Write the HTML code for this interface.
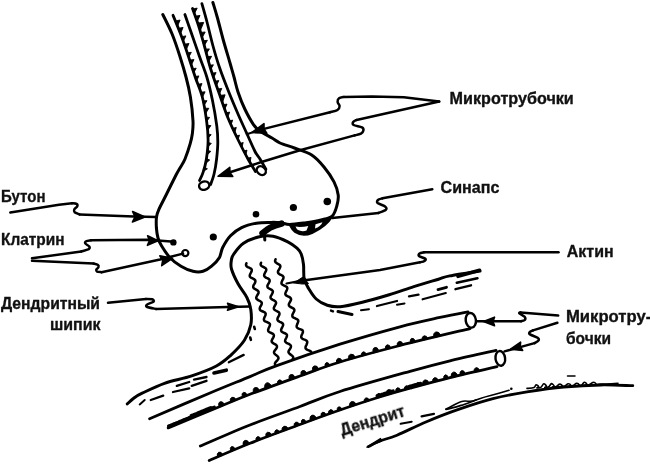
<!DOCTYPE html>
<html lang="ru">
<head>
<meta charset="utf-8">
<title>Синапс</title>
<style>html,body{margin:0;padding:0;background:#fff;}body{width:650px;height:465px;overflow:hidden;}svg{display:block;}</style>
</head>
<body>
<svg width="650" height="465" viewBox="0 0 650 465" fill="none" stroke="#000" stroke-linecap="round" stroke-linejoin="round">
<g>
<path d="M162.8 14.5C164.4 17.8 169.3 27.1 172.1 34C174.9 40.9 177.5 48.8 179.8 56C182.1 63.2 184.2 70.2 186 77C187.8 83.8 189.2 89.7 190.4 97C191.6 104.3 192.7 114.8 193 121C193.3 127.2 192.8 130.2 192.3 134C191.8 137.8 191.4 139.5 190.2 143.7C189 147.9 186.7 154.9 185 159C183.3 163.1 181.5 165.3 180 168C178.5 170.7 178.1 171 175.9 175.3C173.7 179.6 169.4 188.3 166.6 194C163.8 199.7 160.6 205.5 158.9 209.3C157.2 213.1 156.9 213.9 156.5 217C156.1 220.1 156.2 224.5 156.4 228C156.7 231.5 157.2 235 158 238C158.8 241 159.5 242.5 161.5 245.8C163.5 249.1 166.8 254.3 170 257.7C173.2 261.1 177.2 263.9 181 266.2C184.8 268.5 189.3 270.4 193 271.3C196.7 272.2 199.9 272.2 203 271.3C206.1 270.4 208.9 268.5 211.6 266.2C214.3 263.9 217.5 260.8 219.3 257.7C221.2 254.6 220.8 251.2 222.7 247.5C224.6 243.8 227.3 239 230.5 235.7C233.7 232.4 237.3 229.7 241.6 227.6C245.9 225.5 251.5 224.1 256.4 223.2C261.3 222.3 267.2 222.5 271.2 222.4C275.2 222.3 277.4 222.4 280.5 222.7C283.6 223 285.7 224.4 289.7 224.4C293.7 224.4 299.3 223.6 304.5 222.9C309.7 222.2 316.4 221.2 321 220C325.6 218.8 329.6 218.3 332.2 216C334.8 213.7 335.8 209.5 336.8 206C337.8 202.5 338.7 199 338.2 195C337.7 191 336.4 186.6 334 181.9C331.6 177.2 327.7 171.5 324 167C320.3 162.5 316.6 158.2 311.7 155C306.8 151.8 299.7 150 294.4 148C289.1 146 283.7 144.7 280 143C276.3 141.3 275.3 140 272 138C268.7 136 263.1 133.3 260 131C256.9 128.7 255.8 128 253.3 124.3C250.8 120.6 247.4 114.4 244.8 109C242.2 103.6 239.8 97.3 238 92C236.2 86.7 235.3 81.8 234 77C232.7 72.2 231.8 69.3 230 63C228.2 56.7 225.1 46.7 223 39C220.9 31.3 218.9 23.1 217.2 17C215.5 10.9 213.6 4.9 212.9 2.5" stroke-width="3" />
<path d="M173 15.3C174.3 18.4 178 27.2 180.6 34C183.2 40.8 185.9 48.8 188.3 56C190.7 63.2 192.9 70.2 195.2 77C197.5 83.8 200.4 89.7 202.3 97C204.2 104.3 205.6 113.8 206.6 121C207.6 128.2 208.1 133.7 208.1 140C208.1 146.3 207.2 153.6 206.4 159C205.6 164.4 204.2 169 203 172.6C201.8 176.2 200.1 179.2 199.5 180.5" stroke-width="2.8" />
<path d="M184.9 14.5C186 17.8 189.3 27.1 191.7 34C194.1 40.9 196.8 48.8 199.3 56C201.8 63.2 204.6 69.6 206.8 77C209 84.4 210.8 92.3 212.5 100.5C214.2 108.7 215.9 119.1 216.8 126C217.7 132.9 217.8 136.5 217.8 142C217.8 147.5 217.2 153.6 216.6 159C216 164.4 215 170.1 214 174.3C213 178.6 211.2 182.8 210.6 184.5" stroke-width="2.8" />
<path d="M192.5 8.5C193.5 11.3 196.5 19.2 198.5 25.5C200.5 31.8 202.4 38.9 204.4 46C206.4 53.1 207.9 60 210.4 68C212.9 76 216.4 85.5 219.3 93.7C222.2 102 224.7 109.8 227.8 117.5C231 125.2 234.8 133.1 238.2 140C241.6 146.9 245.1 153.8 248 159C250.9 164.2 254.2 169.4 255.4 171.5" stroke-width="2.8" />
<path d="M201.9 3.7C202.8 6.8 205.2 15 207 22C208.8 29 210.9 38.3 213 46C215.1 53.7 216.9 60 219.7 68C222.4 76 226.4 86 229.5 93.7C232.6 101.4 235.2 107.5 238 114C240.8 120.5 243.7 126.6 246.5 132.8C249.3 139.1 252.8 147.1 255 151.5C257.2 155.9 258.2 156.1 260 159C261.8 161.9 264.9 167.5 265.9 169.2" stroke-width="2.8" />
<path d="M175.4 21L180.1 20L177.5 26.2ZM178.4 28.3L183.1 27.4L180.5 33.7ZM181.6 36.7L185.9 35.9L183.3 41.3ZM184.3 44.2L189 43.5L186.2 49.8ZM187.2 52.9L191.3 52.3L188.7 57.2ZM189.7 60.1L194 59.6L191.3 65.2ZM192.5 68.7L196.2 68.2L193.8 72.7ZM195 76.6L198.9 75.9L196.6 81ZM197.9 84.3L202 83.6L199.8 89.1ZM200.9 92.2L205.1 91.8L202.4 97.3ZM203.2 100.8L207 100.7L204.1 105.2ZM204.7 108.2L208.8 108.3L205.6 113.6ZM206.1 117.2L209.6 117.4L206.7 121.4ZM207.2 125.3L210.9 125.6L207.7 130.2ZM208 134.2L211.2 134.7L208.1 138.1ZM208.1 142.5L211.3 143.4L207.8 146.9ZM207.5 150.3L210.8 151.4L207 155ZM206.5 158.6L209.7 160L205.6 163.5ZM204.6 167.3L207.4 168.8L203.4 171.3Z" fill="#000" stroke="#000" stroke-width="0.9"/>
<path d="M192.7 9L197.2 8.1L194.4 13.7ZM195.3 16.2L200 15.4L197.2 21.5ZM197.7 23L203.7 22.4L200.2 30.8ZM200.6 32.4L205.2 32L202.1 37.7ZM202.9 40.8L207.4 40.3L204.3 45.7ZM205.3 49.2L209.4 48.9L206.4 53.7ZM207.2 56.6L211.6 56.3L208.6 61.8ZM209.6 65.3L213.4 64.8L210.8 69.4ZM212.1 73.2L216.1 72.6L213.6 77.7ZM214.9 81.2L218.8 80.6L216.4 85.7ZM217.6 89L221.8 88.4L219.4 93.9ZM219.9 95.4L225.1 94.8L222.4 102.7ZM223.1 104.7L227 104.1L224.7 109.5ZM225.9 112.8L229.7 112.1L227.7 117.3ZM229.2 120.9L232.7 120.1L231 124.8ZM232.6 128.4L236.3 127.4L234.7 132.9ZM236.3 136L239.5 135.1L238 139.6ZM239.9 143.5L243.2 142.5L241.9 147.4ZM243.8 151.1L247 150.1L245.8 154.9ZM247.6 158.4L251 157.3L250 162.6Z" fill="#000" stroke="#000" stroke-width="0.9"/>
<ellipse cx="204.2" cy="185.6" rx="5.2" ry="4.1" transform="rotate(-15 204.2 185.6)" fill="#fff" stroke-width="2.4"/>
<ellipse cx="261.3" cy="170.6" rx="4.9" ry="3.9" transform="rotate(40 261.3 170.6)" fill="#fff" stroke-width="2.4"/>
<circle cx="256" cy="214.2" r="3.3" fill="#000" stroke="none"/>
<circle cx="293.4" cy="207.5" r="3.6" fill="#000" stroke="none"/>
<circle cx="327.3" cy="201.5" r="3.8" fill="#000" stroke="none"/>
<circle cx="213.3" cy="237" r="3.6" fill="#000" stroke="none"/>
<circle cx="173.4" cy="242.4" r="3.2" fill="#000" stroke="none"/>
<ellipse cx="185.3" cy="253.1" rx="3.1" ry="3.1" transform="rotate(0 185.3 253.1)" fill="#fff" stroke-width="2.2"/>
<path d="M289.5 224.6C296 226 306 224.5 321 220.5C325 219.5 329 218 332.5 216C329 222 322 228.5 312 233C306 235.5 299.5 235 295 232C292.5 230 291 227.5 289.5 224.6Z" fill="#000" stroke-width="2"/>
<path d="M295.5 226.5C299 227.3 304 226.8 308.3 226L306.5 230.5C303 231.8 299 231 296.8 229Z M315.5 224.2L322.5 222.2C321.5 225 318.5 227.5 315 228.5Z" fill="#fff" stroke="none"/>
<path d="M262.5 233.2C267 229.5 271 226 281.5 223.6" stroke-width="6.4"/>
<path d="M264.3 233L264.8 240" stroke-width="3"/>
<path d="M127.3 403.9C128.4 402.9 131.5 399.8 134 398C136.5 396.2 137.1 395.6 142.2 393.2C147.3 390.8 156.2 386.2 164.5 383.3C172.8 380.4 183 378.8 191.7 375.9C200.3 373 210 369.4 216.4 366C222.8 362.6 225.5 360.1 230.2 355.8C234.9 351.5 241 345.5 244.4 340.3C247.8 335.1 249.7 330 250.8 324.8C251.9 319.6 251.4 313.9 250.8 309.4C250.2 304.9 249.2 302 247 297.7C244.8 293.4 240.5 288.3 237.9 283.5C235.3 278.7 232.6 272.9 231.5 269C230.4 265.1 231 262.5 231.4 260C231.8 257.5 231.8 256.8 233.8 254C235.8 251.2 239.4 246.1 243.5 243.3C247.6 240.5 253.4 238.2 258.3 237C263.2 235.8 268.1 235.4 273 236.2C277.9 237 283.8 239.8 287.8 241.8C291.8 243.8 294.8 246.2 297 248.2C299.2 250.2 300.1 251.3 301.2 254C302.3 256.7 303 260.3 303.5 264.5C304 268.7 303.3 274.9 304.2 279C305.1 283.1 306.8 285.5 308.8 288.8C310.8 292.1 313.1 296.2 316.2 299C319.3 301.8 323.3 304 327.3 305.3C331.3 306.6 334.4 307.2 340.2 306.7C346 306.2 354.2 304.2 362.4 302.2C370.6 300.2 380.6 297.3 389.2 294.7C397.8 292.1 405.6 289.2 413.8 286.6C422 284 432.5 281 438.5 279.2C444.5 277.4 442.8 277.3 449.7 275.9C456.6 274.5 474.9 271.8 480 271" stroke-width="3" />
<path d="M458 276.3L479.5 270.3" stroke-width="3.6"/>
<path d="M246.4 263.3L246 264.5L246.1 265.5L246.7 266.4L247.8 267.1L249.1 267.7L250.4 268.3L251.4 269L251.8 269.9L251.7 271L251.2 272.2L250.5 273.5L249.9 274.8L249.7 275.9L250 276.8L250.9 277.6L252.1 278.2L253.5 278.9L254.6 279.6L255.3 280.4L255.4 281.4L255.1 282.6L254.4 283.8L253.6 285.1L253.2 286.3L253.2 287.3L253.8 288.2L254.8 288.9L256.1 289.6L257.3 290.3L258.2 291.1L258.6 292L258.5 293.1L257.9 294.3L257.1 295.5L256.5 296.8L256.2 297.9L256.5 298.8L257.4 299.6L258.6 300.3L259.9 301L261 301.7L261.7 302.5L261.8 303.5L261.5 304.6L260.8 305.9L260.1 307.2L259.7 308.4L259.8 309.5L260.4 310.3L261.6 311L262.9 311.5L264.2 312.1L265.2 312.8L265.7 313.7L265.6 314.7L265.1 316L264.5 317.3L264 318.6L263.9 319.8L264.3 320.7L265.2 321.4L266.5 321.9L267.9 322.5L269.1 323.1L269.8 323.8L270 324.8L269.7 326L269.1 327.3L268.5 328.6L268.1 329.8L268.2 330.9L268.8 331.7L269.9 332.4L271.2 333L272.5 333.6L273.4 334.3L273.9 335.3L273.8 336.4L273.2 337.6L272.5 338.9L271.9 340.1L271.6 341.2L271.9 342.1L272.7 342.9L273.9 343.6L275.2 344.3L276.3 345.1L276.9 346L277 347.1L276.5 348.2L275.6 349.4L274.8 350.5L274.1 351.6L274 352.6L274.4 353.6L275.3 354.4L276.5 355.3L277.6 356.3L278.3 357.2L278.5 358.2L278.1 359.2L277.3 360.3L276.3 361.4L275.4 362.4L274.9 363.5L275 364.5" stroke-width="2.5"/>
<path d="M261.1 262.7L260.6 263.9L260.7 264.9L261.3 265.8L262.4 266.5L263.7 267.1L264.9 267.8L265.9 268.5L266.3 269.4L266.2 270.5L265.6 271.7L264.9 273L264.3 274.3L264.1 275.4L264.4 276.3L265.2 277.1L266.4 277.8L267.8 278.4L268.9 279.1L269.6 280L269.7 281L269.3 282.1L268.6 283.4L267.9 284.6L267.4 285.8L267.4 286.8L268 287.7L269.1 288.5L270.3 289.1L271.6 289.8L272.5 290.6L272.9 291.5L272.7 292.6L272.1 293.8L271.4 295.1L270.7 296.3L270.5 297.4L270.8 298.4L271.6 299.2L272.8 299.9L274.2 300.5L275.3 301.2L275.9 302.1L276.1 303.1L275.7 304.2L275 305.5L274.3 306.7L273.8 307.9L273.9 309L274.5 309.8L275.6 310.5L276.9 311.2L278.1 311.8L279.1 312.6L279.5 313.5L279.4 314.6L278.8 315.8L278.1 317.1L277.6 318.3L277.4 319.4L277.7 320.4L278.6 321.2L279.8 321.8L281.1 322.4L282.3 323.1L283 323.9L283.2 324.9L282.8 326L282.2 327.3L281.5 328.6L281.1 329.8L281.2 330.8L281.8 331.7L282.9 332.4L284.2 333L285.5 333.5L286.5 334.2L287 335.1L286.9 336.2L286.4 337.5L285.8 338.8L285.2 340.1L285.1 341.2L285.5 342.1L286.4 342.8L287.6 343.4L289 344L290.1 344.7L290.8 345.5L291 346.6L290.6 347.8L289.9 349L289.1 350.2L288.5 351.3L288.5 352.3L289 353.2L289.9 354.1L291.1 354.9L292.2 355.7L293 356.7L293.3 357.6L292.9 358.7L292.2 359.8" stroke-width="2.5"/>
<path d="M275.6 259.2L275.1 260.4L275.1 261.4L275.6 262.3L276.6 263.1L277.9 263.8L279.1 264.5L280 265.3L280.4 266.3L280.2 267.3L279.6 268.5L278.8 269.8L278.1 271L277.9 272.1L278.2 273.1L279 273.9L280.2 274.6L281.6 275.2L282.7 275.9L283.4 276.7L283.5 277.7L283.2 278.9L282.5 280.1L281.9 281.4L281.5 282.6L281.5 283.7L282.2 284.5L283.3 285.2L284.6 285.8L285.9 286.4L286.9 287.1L287.3 288L287.2 289.1L286.7 290.3L286 291.6L285.5 292.9L285.3 294L285.6 294.9L286.5 295.7L287.8 296.3L289.1 296.9L290.2 297.6L290.9 298.5L291.1 299.5L290.7 300.6L290 301.9L289.3 303.2L288.8 304.3L288.9 305.4L289.5 306.2L290.5 307L291.8 307.6L293.1 308.3L294 309L294.4 309.9L294.3 311L293.7 312.2L293 313.5L292.4 314.8L292.3 315.9L292.6 316.9L293.5 317.6L294.8 318.2L296.1 318.8L297.3 319.4L298.1 320.1L298.3 321.1L298 322.3L297.5 323.6L296.9 325L296.6 326.2L296.8 327.2L297.5 328L298.6 328.6L300 329.1L301.3 329.6L302.4 330.2L302.9 331.1L302.9 332.2L302.4 333.5L301.8 334.8L301.3 336.1L301.2 337.2L301.6 338.1L302.5 338.8L303.8 339.4L305.2 339.9L306.3 340.5L307.1 341.3L307.3 342.3L307 343.5L306.5 344.8L305.8 346.1L305.5 347.3L305.6 348.4L306.3 349.2L307.4 349.8L308.7 350.3L310 350.9L311 351.6L311.5 352.5" stroke-width="2.5"/>
<path d="M286.5 283.5L303 280.4" stroke-width="2.2"/>
<circle cx="303.4" cy="280.6" r="3.2" fill="#000" stroke="none"/>
<path d="M294 282.8L303 277L308.5 283.5L303 284Z" fill="#000" stroke-width="1"/>
<path d="M149.6 418.7C159.7 414.4 193.3 400 210 393C226.7 386 238.9 381.2 250 376.6C261.1 372 261.8 371 276.8 365.6C291.8 360.2 319.5 350.7 340 344.2C360.5 337.7 383.3 331.3 400 326.8C416.7 322.3 428.7 319.9 440 317.4C451.3 314.9 463.3 312.7 468 311.8" stroke-width="2.8" />
<path d="M168.2 427.9C176.8 424.3 206.4 412.1 220 406.5C233.6 400.9 236.7 399.4 250 394.3C263.3 389.2 285 381.4 300 376C315 370.6 323.3 367.1 340 362C356.7 356.9 378.3 351.1 400 345.5C421.7 339.9 458.3 331.4 470 328.6" stroke-width="2.8" />
<path d="M200.3 446C208.6 442.5 233.4 431.6 250 425C266.6 418.4 285 412.1 300 406.5C315 400.9 321.7 397.4 340 391.5C358.3 385.6 391.7 376.4 410 371.3C428.3 366.2 435.7 364.3 450 360.8C464.3 357.3 488.3 352.1 496 350.3" stroke-width="2.8" />
<path d="M209.2 460.5C216 457.6 234.9 449.3 250 443.3C265.1 437.3 285 430.1 300 424.5C315 418.9 326.7 414.6 340 410C353.3 405.4 367.9 400.6 379.6 397C391.3 393.4 398.3 391.4 410 388.2C421.7 385 435.5 381.2 450 377.6C464.5 374 489.2 368.4 497 366.6" stroke-width="2.8" />
<path d="M219.2 406.8A2.8 4.3 -22.4 0 1 224.4 404.7ZM230.5 402.1A3.1 4.5 -22.7 0 1 236.2 399.8ZM242.6 397.2A2.5 4.1 -21.3 0 1 247.3 395.3ZM253.7 392.9A3.1 4.5 -20.5 0 1 259.5 390.7ZM265 388.7A3.5 4.9 -20.1 0 1 271.6 386.3ZM277.6 384.1A2.7 4.2 -20 0 1 282.6 382.3ZM289.5 379.8A2.9 4.4 -19.8 0 1 295.1 377.8ZM301.4 375.5A2.8 4.3 -20.1 0 1 306.7 373.6ZM312.9 371.3A3.1 4.5 -20.2 0 1 318.7 369.1ZM325.2 366.8A2.5 4.1 -18.8 0 1 329.9 365.2ZM336.5 363.1A3.1 4.5 -17 0 1 342.4 361.3ZM348.6 359.4A3.5 4.9 -16.1 0 1 355.3 357.5ZM361.4 355.8A2.7 4.2 -15.5 0 1 366.5 354.4ZM373.2 352.6A2.9 4.4 -15 0 1 378.9 351ZM385.4 349.3A2.8 4.3 -14.7 0 1 390.8 347.9ZM397.2 346.2A3.1 4.5 -14.4 0 1 403.2 344.7ZM410.4 342.9A2.5 4.1 -13.8 0 1 415.3 341.7ZM422 340.1A3.1 4.5 -13.6 0 1 427.9 338.6ZM433.7 337.2A3.5 4.9 -13.4 0 1 440.5 335.6Z" fill="#000" stroke="#000" stroke-width="0.9"/>
<path d="M168.6 426.1L169.9 425.6L171.3 425L172.7 424.4L174.1 423.8L175.5 423.3L176.9 422.7L178.3 422.1L179.6 421.5L181 421L182.4 420.4L183.8 419.8L185.2 419.3L186.6 418.7L188 418.1L189.3 417.5L190.7 417L192.1 416.4L193.5 415.8L194.9 415.2L196.3 414.7L197.7 414.1L199 413.5L200.4 412.9L201.8 412.4L203.2 411.8L204.6 411.2L206 410.7L207.4 410.1L208.8 409.5L210.1 408.9L211.5 408.4L212.9 407.8L214.3 407.2" stroke-width="3.2"/>
<path d="M191.3 415.7L192.7 415.2L194.1 414.6L195.5 414L196.9 413.5L198.2 412.9L199.6 412.3L201 411.7L202.4 411.2L203.8 410.6L205.2 410L206.6 409.4L207.9 408.9L209.3 408.3L210.7 407.7" stroke-width="3.4"/>
<path d="M217.6 456.9A2.9 4.2 -23.3 0 1 222.9 454.6ZM230.9 451.2A2.3 3.8 -22.9 0 1 235.3 449.3ZM243.5 445.9A3.2 4.5 -22 0 1 249.5 443.5ZM256.2 440.9A2.6 4 -21 0 1 261 439ZM266.2 437.1A2.9 4.2 -20.6 0 1 271.6 435ZM275 433.8A2.5 3.9 -20.4 0 1 279.6 432ZM282.1 431.1A3.4 4.7 -20.3 0 1 288.4 428.8ZM294.3 426.6A2.9 4.2 -20.3 0 1 299.7 424.6ZM301.8 423.8A2.3 3.8 -20.3 0 1 306.2 422.2ZM310.4 420.7A3.2 4.5 -20.2 0 1 316.5 418.4ZM321.3 416.6A2.6 4 -19.9 0 1 326.2 414.9ZM328.6 414A2.9 4.2 -19.6 0 1 334 412.1ZM337.4 410.9A2.5 3.9 -19.1 0 1 342.1 409.3ZM349.8 406.7A3.4 4.7 -18.4 0 1 356.2 404.5ZM364.1 401.9A2.9 4.2 -17.9 0 1 369.5 400.2ZM377 397.8A2.3 3.8 -17.3 0 1 381.4 396.4ZM386.6 394.8A3.2 4.5 -16.5 0 1 392.8 393ZM395.9 392.1A2.6 4 -15.7 0 1 400.9 390.7ZM404.3 389.8A2.9 4.2 -15.4 0 1 409.8 388.3ZM416.2 386.5A2.5 3.9 -15.3 0 1 421 385.2ZM422.6 384.8A3.4 4.7 -15.1 0 1 429.1 383ZM432.7 382A2.9 4.2 -14.7 0 1 438.3 380.6ZM443.9 379.1A2.3 3.8 -14.2 0 1 448.4 378ZM451.3 377.3A3.2 4.5 -13.6 0 1 457.6 375.8ZM460.1 375.1A2.6 4 -13.3 0 1 465.2 373.9ZM474 371.9A2.9 4.2 -13 0 1 479.6 370.6Z" fill="#000" stroke="#000" stroke-width="0.9"/>
<path d="M377.2 395.9L378.7 395.4L380.1 395L381.5 394.5L383 394.1L384.4 393.6L385.8 393.2L387.3 392.8L388.7 392.3L390.2 391.9L391.6 391.5L393.1 391.1" stroke-width="3.4"/>
<path d="M409 386.6L410.4 386.2L411.9 385.8L413.3 385.4L414.8 385L416.2 384.6L417.6 384.2L419.1 383.8L420.5 383.4" stroke-width="3.4"/>
<ellipse cx="470.8" cy="320.3" rx="5.1" ry="7.4" transform="rotate(-8 470.8 320.3)" fill="#fff" stroke-width="2.4"/>
<ellipse cx="500.3" cy="358.4" rx="4.8" ry="7.4" transform="rotate(-8 500.3 358.4)" fill="#fff" stroke-width="2.4"/>
<path d="M254.2 326.8L254.8 329" stroke-width="2.6"/>
<path d="M250.2 337.5L250.9 339.8" stroke-width="2.6"/>
<path d="M228.8 362.3L243.7 354.9" stroke-width="2.3"/>
<path d="M214 373L226.3 370.2" stroke-width="3.6"/>
<path d="M194 379.6L206.5 377" stroke-width="2.3"/>
<path d="M176.8 385.8L189.2 382" stroke-width="2.3"/>
<path d="M191.7 385.8L206.5 380.8" stroke-width="2.3"/>
<path d="M173 392L189.2 388.3" stroke-width="2.3"/>
<path d="M150.8 400L163.2 395.7" stroke-width="2.3"/>
<path d="M139.7 404.4L144.7 400" stroke-width="2"/>
<path d="M331 310.6L333 311.4" stroke-width="2.4"/>
<path d="M338 311.5L352 314.5" stroke-width="3"/>
<path d="M361 310.2L369 309.2" stroke-width="2"/>
<path d="M377 306L397 301" stroke-width="2.3"/>
<path d="M397 304.7L404.5 303.5" stroke-width="2"/>
<path d="M409 296.3L418.5 294.6" stroke-width="2.3"/>
<path d="M422.6 299.3L445.8 293" stroke-width="2.2"/>
<path d="M438 289.6L446.5 287.3" stroke-width="2.8"/>
<path d="M455.5 289.2L471 285.3" stroke-width="2.4"/>
<path d="M456.8 282.7L477.4 278.2" stroke-width="2.6"/>
<path d="M368.5 446.6C370.2 445.8 373.8 443.4 378.5 441.5C383.2 439.6 389 438.5 397 435.2C405 431.9 416.2 426 426.5 421.7C436.8 417.4 447.4 413.2 458.5 409.4C469.6 405.5 481.6 401.5 493 398.6C504.4 395.7 515.2 393.8 527 391.9C538.8 390 551.6 388.1 563.9 387C576.2 385.9 589.3 385.2 600.8 385C612.3 384.8 627.5 385.6 632.8 385.7" stroke-width="2.8" />
<path d="M367 447.2L380.5 438.6L381.5 441.2Z" fill="#000" stroke-width="1.4"/>
<path d="M400.6 423.7L411.7 421.7" stroke-width="2"/>
<path d="M421.6 416.3L433.9 413.8" stroke-width="2.3"/>
<path d="M446 409C452 407 456 402.5 463 401.2C468 400.5 470 402.5 476 400C482 397.5 488 396 498 393.5C503 392.3 506 391.4 509 390.3" stroke-width="1.6"/>
<path d="M446 409.3C452 408.6 458 406.4 464 404.5C468 403.2 472 401.6 476 400" stroke-width="1.8"/>
<circle cx="511.3" cy="388.8" r="1.3" fill="#000" stroke="none"/>
<path d="M527 388.4C528.2 388.3 532.5 388.2 534 387.6C535.5 387 535.2 384.9 536 384.8C536.8 384.6 538.4 386.2 538.6 386.7C538.8 387.2 536.6 387.8 537 387.9C537.4 387.9 539.9 387.8 541 387.2C542.1 386.5 542.9 384 543.8 383.8C544.7 383.6 546.2 385.5 546.4 386.1C546.6 386.8 544.4 387.4 544.8 387.5C545.2 387.6 547.7 387.4 548.8 386.8C549.9 386.1 550.6 383.8 551.4 383.6C552.3 383.5 553.9 385.3 554 385.8C554.2 386.4 552 387 552.4 387.1C552.8 387.2 555.2 386.9 556.4 386.4C557.7 385.9 558.7 384.2 559.7 384.1C560.6 383.9 562.1 385.2 562.3 385.7C562.4 386.1 560.3 386.6 560.7 386.7C561.1 386.7 563.4 386.5 564.7 386C565.9 385.5 567.2 383.8 568.2 383.7C569.2 383.6 570.6 384.8 570.8 385.3C571 385.7 568.8 386.2 569.2 386.2C569.6 386.3 572 386 573.2 385.5C574.4 385 575.6 383.3 576.6 383.2C577.6 383.1 579 384.4 579.2 384.8C579.3 385.3 577.2 385.8 577.6 385.8C578 385.9 580.4 385.7 581.6 385.1C582.7 384.5 583.4 382.3 584.2 382.2C585.1 382 586.7 383.7 586.8 384.2C587 384.8 584.8 385.4 585.2 385.4C585.6 385.5 587.9 385.3 589.2 384.7C590.6 384.2 592.3 382.4 593.4 382.3C594.5 382.1 595.8 383.5 596 384C596.2 384.4 594 384.9 594.4 385C594.8 385 596.5 384.4 598.4 384.3C600.3 384.1 602.7 384.2 606 384C609.3 383.8 616 383.4 618 383.3" stroke-width="1.6" />
<path d="M567.5 375.9L575 375.9" stroke-width="1.5"/>
<path d="M439.2 101.5L403.8 97.2L372 96.5L344 96.9" stroke-width="2.5"/>
<path d="M344 96.9C343.2 97.1 340.1 97.5 339 98.3C337.9 99.1 337.5 100.7 337.6 102C337.7 103.3 339.6 104.7 339.6 106C339.6 107.3 339.1 109 337.5 110C335.9 111 331.2 111.9 330 112.3" stroke-width="2.5" />
<path d="M330 112.3L262 129.4" stroke-width="2.5"/>
<path d="M252 132.5L264 123.7L264 128.9L266.8 133.3Z" fill="#000" stroke="#000" stroke-width="1.6"/>
<path d="M262 129.4L247.5 134" stroke-width="2"/>
<path d="M439.2 101.5L356.5 120" stroke-width="2.5"/>
<path d="M356.5 120C355.9 120.3 353.7 121.2 353.2 122C352.7 122.8 352.1 124.1 353.6 125C355.1 125.9 360.4 126.5 362 127.4C363.6 128.3 363.6 129.5 363.4 130.5C363.2 131.5 362.5 132.8 361 133.6C359.5 134.4 355.7 135.1 354.6 135.4" stroke-width="2.5" />
<path d="M354.6 135.4L300 150.2L262.3 161.8L230 172.3" stroke-width="2.5"/>
<path d="M218 176.3L229.8 167.4L229.9 172.4L232.8 176.4Z" fill="#000" stroke="#000" stroke-width="1.6"/>
<path d="M432.3 189.2L382.5 198.3" stroke-width="2.5"/>
<path d="M382.5 198.3C381.8 198.6 378.8 199.2 378 200C377.2 200.8 376.4 201.9 377.6 203C378.9 204.1 384.2 205.6 385.5 206.8C386.8 208 386.8 209 385.6 210C384.4 211 379.7 212.5 378.5 213" stroke-width="2.5" />
<path d="M378.5 213L332.3 218" stroke-width="2.5"/>
<path d="M558.5 252.2L424 252.2" stroke-width="2.5"/>
<path d="M424 252.2C423.3 252.4 420.4 252.8 419.6 253.4C418.8 254 418.1 255.1 419 256C419.9 256.9 424.4 257.9 425.3 258.7C426.2 259.5 425.4 260.4 424.5 261C423.6 261.6 420.8 262.1 420 262.3" stroke-width="2.5" />
<path d="M420 262.3L380 270L305 280.3" stroke-width="2.5"/>
<path d="M558.2 315.6L520.5 312.4" stroke-width="2.5"/>
<path d="M520.5 312.4C520.3 312.6 518.7 312.7 519.4 313.4C520.1 314.1 523.7 315.7 524.6 316.8C525.5 317.9 525.4 319.3 524.8 320C524.2 320.7 521.6 321 521 321.2" stroke-width="2.5" />
<path d="M521 321.2L477 321.3" stroke-width="2.5"/>
<path d="M483.5 321.5L494.5 317.2L493 321.5L494.5 325.8Z" fill="#000" stroke="#000" stroke-width="1.6"/>
<path d="M557.4 322.8L533 330.4" stroke-width="2.5"/>
<path d="M533 330.4C532.4 330.7 530.1 331.5 529.6 332.2C529.1 332.9 528.7 333.5 530 334.4C531.3 335.3 536.2 336.8 537.6 337.8C539 338.8 539.1 339.5 538.6 340.4C538.1 341.3 535.2 342.7 534.5 343.1" stroke-width="2.5" />
<path d="M534.5 343.1L504.5 351.4" stroke-width="2.5"/>
<path d="M510.5 349.2L520.6 342.2L520.2 346.7L522.7 350.4Z" fill="#000" stroke="#000" stroke-width="1.6"/>
<path d="M10.3 212.5L59 204.8L72 203.3" stroke-width="2.5"/>
<path d="M72 203.3C72.8 203.4 75.7 203.3 76.6 203.8C77.5 204.3 77.6 205.5 77.2 206.4C76.8 207.3 74.7 208.4 74.3 209.4C73.9 210.4 73.7 211.4 74.6 212.2C75.5 213 78.7 214 79.5 214.4" stroke-width="2.5" />
<path d="M79.5 214.4L134 216.6L156.4 217.1" stroke-width="2.5"/>
<path d="M145 217L132.4 222L135 216.8L132.6 211.5Z" fill="#000" stroke="#000" stroke-width="1.6"/>
<path d="M32 258.3L81.3 251.5" stroke-width="2.5"/>
<path d="M81.3 251.5C82.5 251.1 87.1 250.1 88.4 249.3C89.8 248.5 89.9 247.6 89.4 246.6C88.9 245.6 85.8 244.4 85.3 243.5C84.8 242.6 85.2 241.8 86.2 241.2C87.2 240.6 90.2 240.4 91 240.2" stroke-width="2.5" />
<path d="M91 240.2L147.8 239.8L171 241.6" stroke-width="2.5"/>
<path d="M158 240.8L147.4 245.3L149.5 240.6L147.6 235.8Z" fill="#000" stroke="#000" stroke-width="1.6"/>
<path d="M32 260.8L93.6 263.6" stroke-width="2.5"/>
<path d="M93.6 263.6C94.3 263.8 97.2 264.4 98 265C98.8 265.6 98.7 266.6 98.4 267.4C98.1 268.2 96.5 268.9 96.3 269.6C96.1 270.3 96.1 271.2 97 271.6C97.9 272 100.8 272.1 101.5 272.2" stroke-width="2.5" />
<path d="M101.5 272.2L160 259.5L183 253.6" stroke-width="2.5"/>
<path d="M172.5 258.4L161.7 265.7L162.7 260.4L159.8 255.9Z" fill="#000" stroke="#000" stroke-width="1.6"/>
<path d="M108 302.8L146 298.9" stroke-width="2.5"/>
<path d="M146 298.9C147 298.9 150.7 298.8 152 299.2C153.3 299.6 154.4 300.7 153.6 301.6C152.8 302.5 148.1 303.7 147 304.6C145.9 305.5 145.7 306.3 147.2 307C148.7 307.7 154.5 308.6 156 308.9" stroke-width="2.5" />
<path d="M156 308.9L228 306.9L250 306.6" stroke-width="2.5"/>
<path d="M238.5 306.7L227.5 310.2L229 306.7L227.5 303.2Z" fill="#000" stroke="#000" stroke-width="1.6"/>
</g>
<g fill="#111" stroke="#111" stroke-width="0.35" opacity="0.999" font-family="'Liberation Sans', 'DejaVu Sans', sans-serif" font-weight="bold">
<text x="1" y="201.7" font-size="16.6" textLength="44.5" lengthAdjust="spacingAndGlyphs">Бутон</text>
<text x="1" y="245.4" font-size="16.6" textLength="63.5" lengthAdjust="spacingAndGlyphs">Клатрин</text>
<text x="1" y="308.7" font-size="16.6" textLength="99" lengthAdjust="spacingAndGlyphs">Дендритный</text>
<text x="50" y="330.3" font-size="16.6" textLength="50.5" lengthAdjust="spacingAndGlyphs">шипик</text>
<text x="449.6" y="104" font-size="16.6" textLength="124.2" lengthAdjust="spacingAndGlyphs">Микротрубочки</text>
<text x="440.6" y="193" font-size="16.6" textLength="58.8" lengthAdjust="spacingAndGlyphs">Синапс</text>
<text x="566.8" y="257" font-size="16.6" textLength="46.8" lengthAdjust="spacingAndGlyphs">Актин</text>
<text x="566" y="321.7" font-size="16.6" textLength="85.3" lengthAdjust="spacingAndGlyphs">Микротру-</text>
<text x="566" y="344.4" font-size="16.6" textLength="45" lengthAdjust="spacingAndGlyphs">бочки</text>
<text x="342" y="435.8" font-size="16.2" textLength="67" lengthAdjust="spacingAndGlyphs" transform="rotate(-17.6 342 435.8)">Дендрит</text>
</g>
</svg>
</body>
</html>
